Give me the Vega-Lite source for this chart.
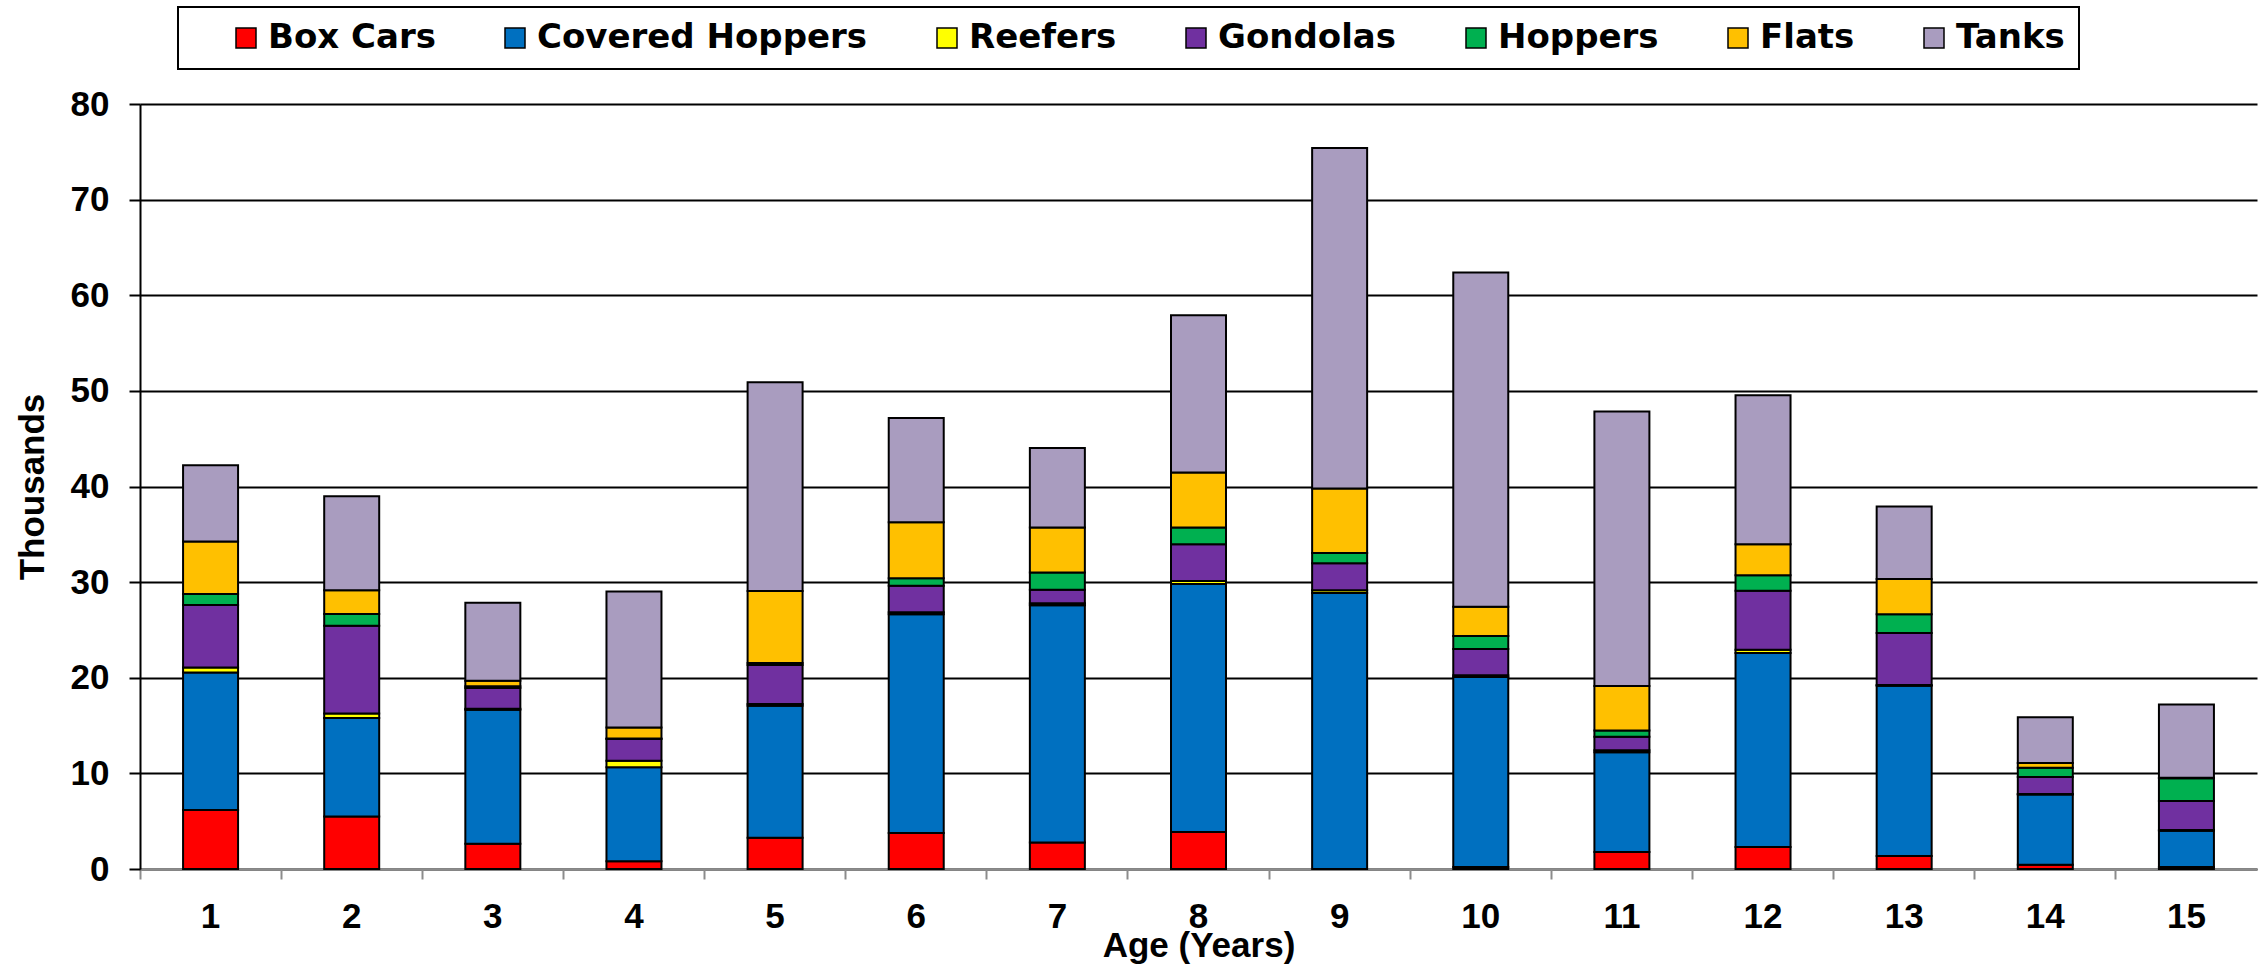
{
  "$schema": "https://vega.github.io/schema/vega-lite/v6.json",
  "width": 2117,
  "height": 765,
  "autosize": {"type": "none"},
  "padding": {"left": 140, "top": 104, "right": 5, "bottom": 98},
  "background": "white",
  "data": {
    "values": [
      {"age": 1, "Box Cars": 6.17, "Covered Hoppers": 14.39, "Reefers": 0.52, "Gondolas": 6.52, "Hoppers": 1.15, "Flats": 5.5, "Tanks": 7.98},
      {"age": 2, "Box Cars": 5.5, "Covered Hoppers": 10.28, "Reefers": 0.49, "Gondolas": 9.17, "Hoppers": 1.22, "Flats": 2.5, "Tanks": 9.83},
      {"age": 3, "Box Cars": 2.65, "Covered Hoppers": 14.01, "Reefers": 0.1, "Gondolas": 2.16, "Hoppers": 0.2, "Flats": 0.57, "Tanks": 8.15},
      {"age": 4, "Box Cars": 0.8, "Covered Hoppers": 9.83, "Reefers": 0.69, "Gondolas": 2.27, "Hoppers": 0.05, "Flats": 1.17, "Tanks": 14.21},
      {"age": 5, "Box Cars": 3.28, "Covered Hoppers": 13.8, "Reefers": 0.17, "Gondolas": 4.08, "Hoppers": 0.22, "Flats": 7.52, "Tanks": 21.83},
      {"age": 6, "Box Cars": 3.77, "Covered Hoppers": 22.86, "Reefers": 0.22, "Gondolas": 2.78, "Hoppers": 0.77, "Flats": 5.87, "Tanks": 10.9},
      {"age": 7, "Box Cars": 2.76, "Covered Hoppers": 24.81, "Reefers": 0.21, "Gondolas": 1.43, "Hoppers": 1.79, "Flats": 4.7, "Tanks": 8.32},
      {"age": 8, "Box Cars": 3.87, "Covered Hoppers": 25.94, "Reefers": 0.31, "Gondolas": 3.84, "Hoppers": 1.75, "Flats": 5.75, "Tanks": 16.44},
      {"age": 9, "Box Cars": 0, "Covered Hoppers": 28.87, "Reefers": 0.27, "Gondolas": 2.83, "Hoppers": 1.08, "Flats": 6.74, "Tanks": 35.61},
      {"age": 10, "Box Cars": 0.2, "Covered Hoppers": 19.87, "Reefers": 0.2, "Gondolas": 2.73, "Hoppers": 1.36, "Flats": 3.07, "Tanks": 34.94},
      {"age": 11, "Box Cars": 1.78, "Covered Hoppers": 10.44, "Reefers": 0.2, "Gondolas": 1.4, "Hoppers": 0.66, "Flats": 4.65, "Tanks": 28.72},
      {"age": 12, "Box Cars": 2.3, "Covered Hoppers": 20.28, "Reefers": 0.35, "Gondolas": 6.18, "Hoppers": 1.61, "Flats": 3.24, "Tanks": 15.57},
      {"age": 13, "Box Cars": 1.36, "Covered Hoppers": 17.8, "Reefers": 0.07, "Gondolas": 5.45, "Hoppers": 1.95, "Flats": 3.7, "Tanks": 7.58},
      {"age": 14, "Box Cars": 0.45, "Covered Hoppers": 7.33, "Reefers": 0.07, "Gondolas": 1.78, "Hoppers": 0.95, "Flats": 0.5, "Tanks": 4.8},
      {"age": 15, "Box Cars": 0.2, "Covered Hoppers": 3.81, "Reefers": 0.07, "Gondolas": 3.04, "Hoppers": 2.37, "Flats": 0.05, "Tanks": 7.66}
    ]
  },
  "transform": [
    {"fold": ["Box Cars", "Covered Hoppers", "Reefers", "Gondolas", "Hoppers", "Flats", "Tanks"], "as": ["type", "value"]},
    {"calculate": "indexof(['Box Cars','Covered Hoppers','Reefers','Gondolas','Hoppers','Flats','Tanks'], datum.type)", "as": "rank"}
  ],
  "mark": {"type": "bar", "size": 55, "stroke": "black", "strokeWidth": 2},
  "encoding": {
    "x": {
      "field": "age",
      "type": "ordinal",
      "scale": {"paddingInner": 0, "paddingOuter": 0},
      "axis": {
        "title": "Age (Years)",
        "labelAngle": 0,
        "bandPosition": 0,
        "domainColor": "#8c8c8c",
        "domainWidth": 2,
        "tickColor": "#8c8c8c",
        "tickWidth": 2,
        "tickSize": 10,
        "labelPadding": 20,
        "titlePadding": -6
      }
    },
    "y": {
      "field": "value",
      "type": "quantitative",
      "stack": "zero",
      "scale": {"domain": [0, 80], "nice": false},
      "axis": {
        "title": "Thousands",
        "values": [0, 10, 20, 30, 40, 50, 60, 70, 80],
        "domainColor": "black",
        "domainWidth": 2,
        "tickColor": "black",
        "tickWidth": 2,
        "tickSize": 11,
        "labelPadding": 20,
        "gridColor": "black",
        "gridWidth": 2,
        "grid": true,
        "titlePadding": 20
      }
    },
    "color": {
      "field": "type",
      "type": "nominal",
      "scale": {
        "domain": ["Box Cars", "Covered Hoppers", "Reefers", "Gondolas", "Hoppers", "Flats", "Tanks"],
        "range": ["#FF0000", "#0070C0", "#FFFF00", "#7030A0", "#00B050", "#FFC000", "#A99CBF"]
      },
      "legend": {
        "title": "\u00a0",
        "titleOrient": "left",
        "titleFontSize": 10,
        "titlePadding": 37,
        "orient": "none",
        "legendX": 38,
        "legendY": -97,
        "direction": "horizontal",
        "columns": 7,
        "labelExpr": "datum.label === 'Tanks' ? 'Tanks\u00a0' : datum.label"
      }
    },
    "order": {"field": "rank", "type": "quantitative"}
  },
  "config": {
    "view": {"stroke": null},
    "axis": {
      "labelFont": "Liberation Sans",
      "labelFontWeight": "bold",
      "labelFontSize": 35,
      "labelColor": "black",
      "titleFont": "Liberation Sans",
      "titleFontWeight": "bold",
      "titleFontSize": 35,
      "titleColor": "black"
    },
    "legend": {
      "labelFont": "DejaVu Sans",
      "labelFontWeight": "bold",
      "labelFontSize": 34,
      "labelColor": "black",
      "labelLimit": 0,
      "labelOffset": 5,
      "symbolType": "square",
      "symbolSize": 400,
      "symbolStrokeColor": "black",
      "symbolStrokeWidth": 1.5,
      "symbolOpacity": 1,
      "columnPadding": 62,
      "padding": 14,
      "strokeColor": "black",
      "strokeWidth": 2
    }
  }
}
